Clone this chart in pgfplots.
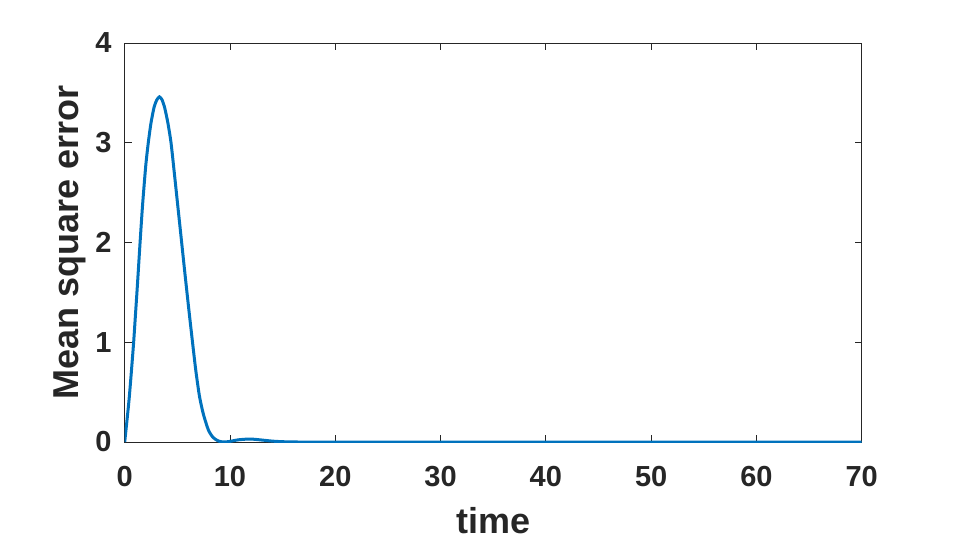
\documentclass[border=0pt]{standalone}
\usepackage{fontspec}
\setmainfont{Liberation Sans}
\usepackage{pgfplots}
\pgfplotsset{compat=1.18}
\definecolor{mlblue}{HTML}{0072BD}
\definecolor{axgray}{HTML}{262626}

\begin{document}
\begin{tikzpicture}
\begin{axis}[
  at={(0,0)}, anchor=south west,
  scale only axis,
  width=737pt, height=399pt,
  xmin=0, xmax=70, ymin=0, ymax=4,
  xtick={0,10,...,70}, ytick={0,1,2,3,4},
  axis line style={axgray, line width=0.8pt},
  tick style={axgray, line width=0.8pt},
  major tick length=7pt,
  tick align=inside,
  /pgf/number format/assume math mode=true,
  tick label style={font=\fontsize{29}{34}\selectfont\bfseries, text=axgray, inner sep=0pt},
  xticklabel style={yshift=-24pt},
  yticklabel style={xshift=-13pt},
  label style={font=\fontsize{36}{42}\selectfont\bfseries, text=axgray, inner sep=0pt},
  xlabel={time},
  ylabel={Mean square error},
  xlabel style={at={(axis description cs:0.5,-0.197)}, anchor=center},
  ylabel style={at={(axis description cs:-0.0746,0.5)}, anchor=center},
]
\addplot[mlblue, line width=3pt, smooth, tension=0.4] coordinates {
(0,0) (0.2,0.2) (0.41,0.42) (0.6,0.66) (0.85,1.0) (1.0,1.24) (1.2,1.56)
(1.46,2.0) (1.7,2.38) (2.0,2.77) (2.24,3.0) (2.5,3.2) (2.8,3.36) (3.05,3.43)
(3.3,3.46) (3.55,3.43) (3.8,3.35) (4.1,3.2) (4.4,3.0) (4.7,2.71) (5.05,2.36)
(5.41,2.0) (5.75,1.66) (6.1,1.32) (6.42,1.02) (6.75,0.72) (7.1,0.46) (7.47,0.28)
(7.95,0.12) (8.4,0.045) (8.9,0.01) (9.4,0.0) (10.0,0.006) (10.8,0.022) (11.9,0.03)
(13.0,0.02) (14.0,0.009) (15.0,0.003) (16.5,0.0) (20,0) (30,0) (40,0) (50,0) (60,0) (70,0)
};
\end{axis}
\path[use as bounding box] (-124.7pt,-100pt) rectangle (830.3pt,442pt);
\end{tikzpicture}
\end{document}
